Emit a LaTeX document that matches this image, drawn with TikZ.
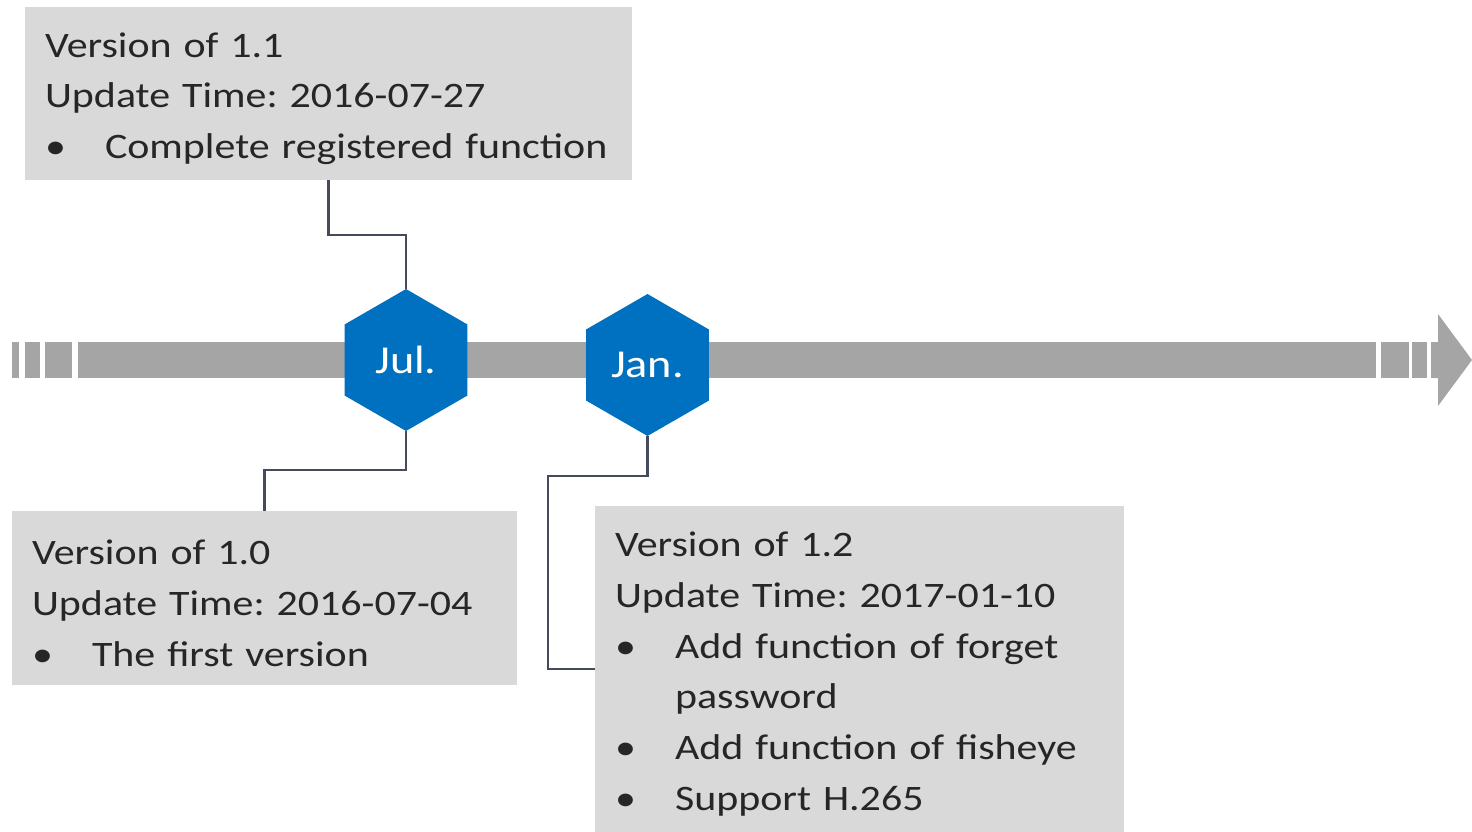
\documentclass[tikz,border=0pt]{standalone}
\usepackage{fontspec}
\setmainfont{Carlito}[FakeStretch=1.17]
\usepackage{xcolor}
\usepackage{tikz}
\usetikzlibrary{shapes.geometric, positioning}

\definecolor{boxgray}{HTML}{D9D9D9}
\definecolor{bargray}{HTML}{A5A5A5}
\definecolor{hexblue}{HTML}{0070C0}
\definecolor{linkgray}{HTML}{454A5C}
\definecolor{textdark}{HTML}{262626}

\newcommand{\bitem}[1]{\makebox[1.2cm][l]{\textbullet}#1}
\frenchspacing

\begin{document}
\begin{tikzpicture}[
    x=0.02cm, y=-0.02cm,
    note/.style={rectangle, fill=boxgray, inner xsep=0.4cm, inner ysep=0pt,
        align=left, text=textdark,
        font=\fontsize{20.4}{28.9}\selectfont,
        execute at begin node={\rule{0pt}{0.97em}}},
    month/.style={regular polygon, regular polygon sides=6, shape border rotate=30,
        fill=hexblue, inner sep=0pt, minimum size=2.84cm, text=white,
        font=\fontsize{22.5}{27}\selectfont},
    link/.style={draw=linkgray, line width=1.2pt},
    bar/.style={fill=bargray}
]
    \useasboundingbox (0,0) rectangle (1472,832);

    % Timeline bar
    \foreach \a/\b in {12/19, 25/40, 45/72, 78/1376, 1381/1409, 1412/1427}
        \fill[bar] (\a,342) rectangle (\b,378);
    \fill[bar] (1431,342) -- (1438,342) -- (1438,314) -- (1472,360)
        -- (1438,406) -- (1438,378) -- (1431,378) -- cycle;

    % Months
    \node[month] (jul) at (406,360) {Jul.};
    \node[month] (jan) at (647.5,365) {Jan.};

    % Version notes
    \node[note, text width=11.34cm, minimum height=3.46cm] (v11) at (328.5,93.5) {
        Version of 1.1\\
        Update Time: 2016-07-27\\
        \bitem{Complete registered function}
    };

    \node[note, text width=9.3cm, minimum height=3.48cm] (v10) at (264.5,598) {
        Version of 1.0\\
        Update Time: 2016-07-04\\
        \bitem{The first version}
    };

    \node[note, text width=9.78cm, minimum height=6.52cm] (v12) at (859.5,669) {
        Version of 1.2\\
        Update Time: 2017-01-10\\
        \bitem{Add function of forget}\\
        \hspace*{1.2cm}password\\
        \bitem{Add function of fisheye}\\
        \bitem{Support H.265}
    };

    % Links
    \coordinate (bend12) at (548,476);
    \draw[link] (v11.south) -- ++(0,55) -| (jul.north);
    \draw[link] (jul.south) -- ++(0,39) -| (v10.north);
    \draw[link] (jan.south) |- (bend12) |- (v12.west);
\end{tikzpicture}
\end{document}
